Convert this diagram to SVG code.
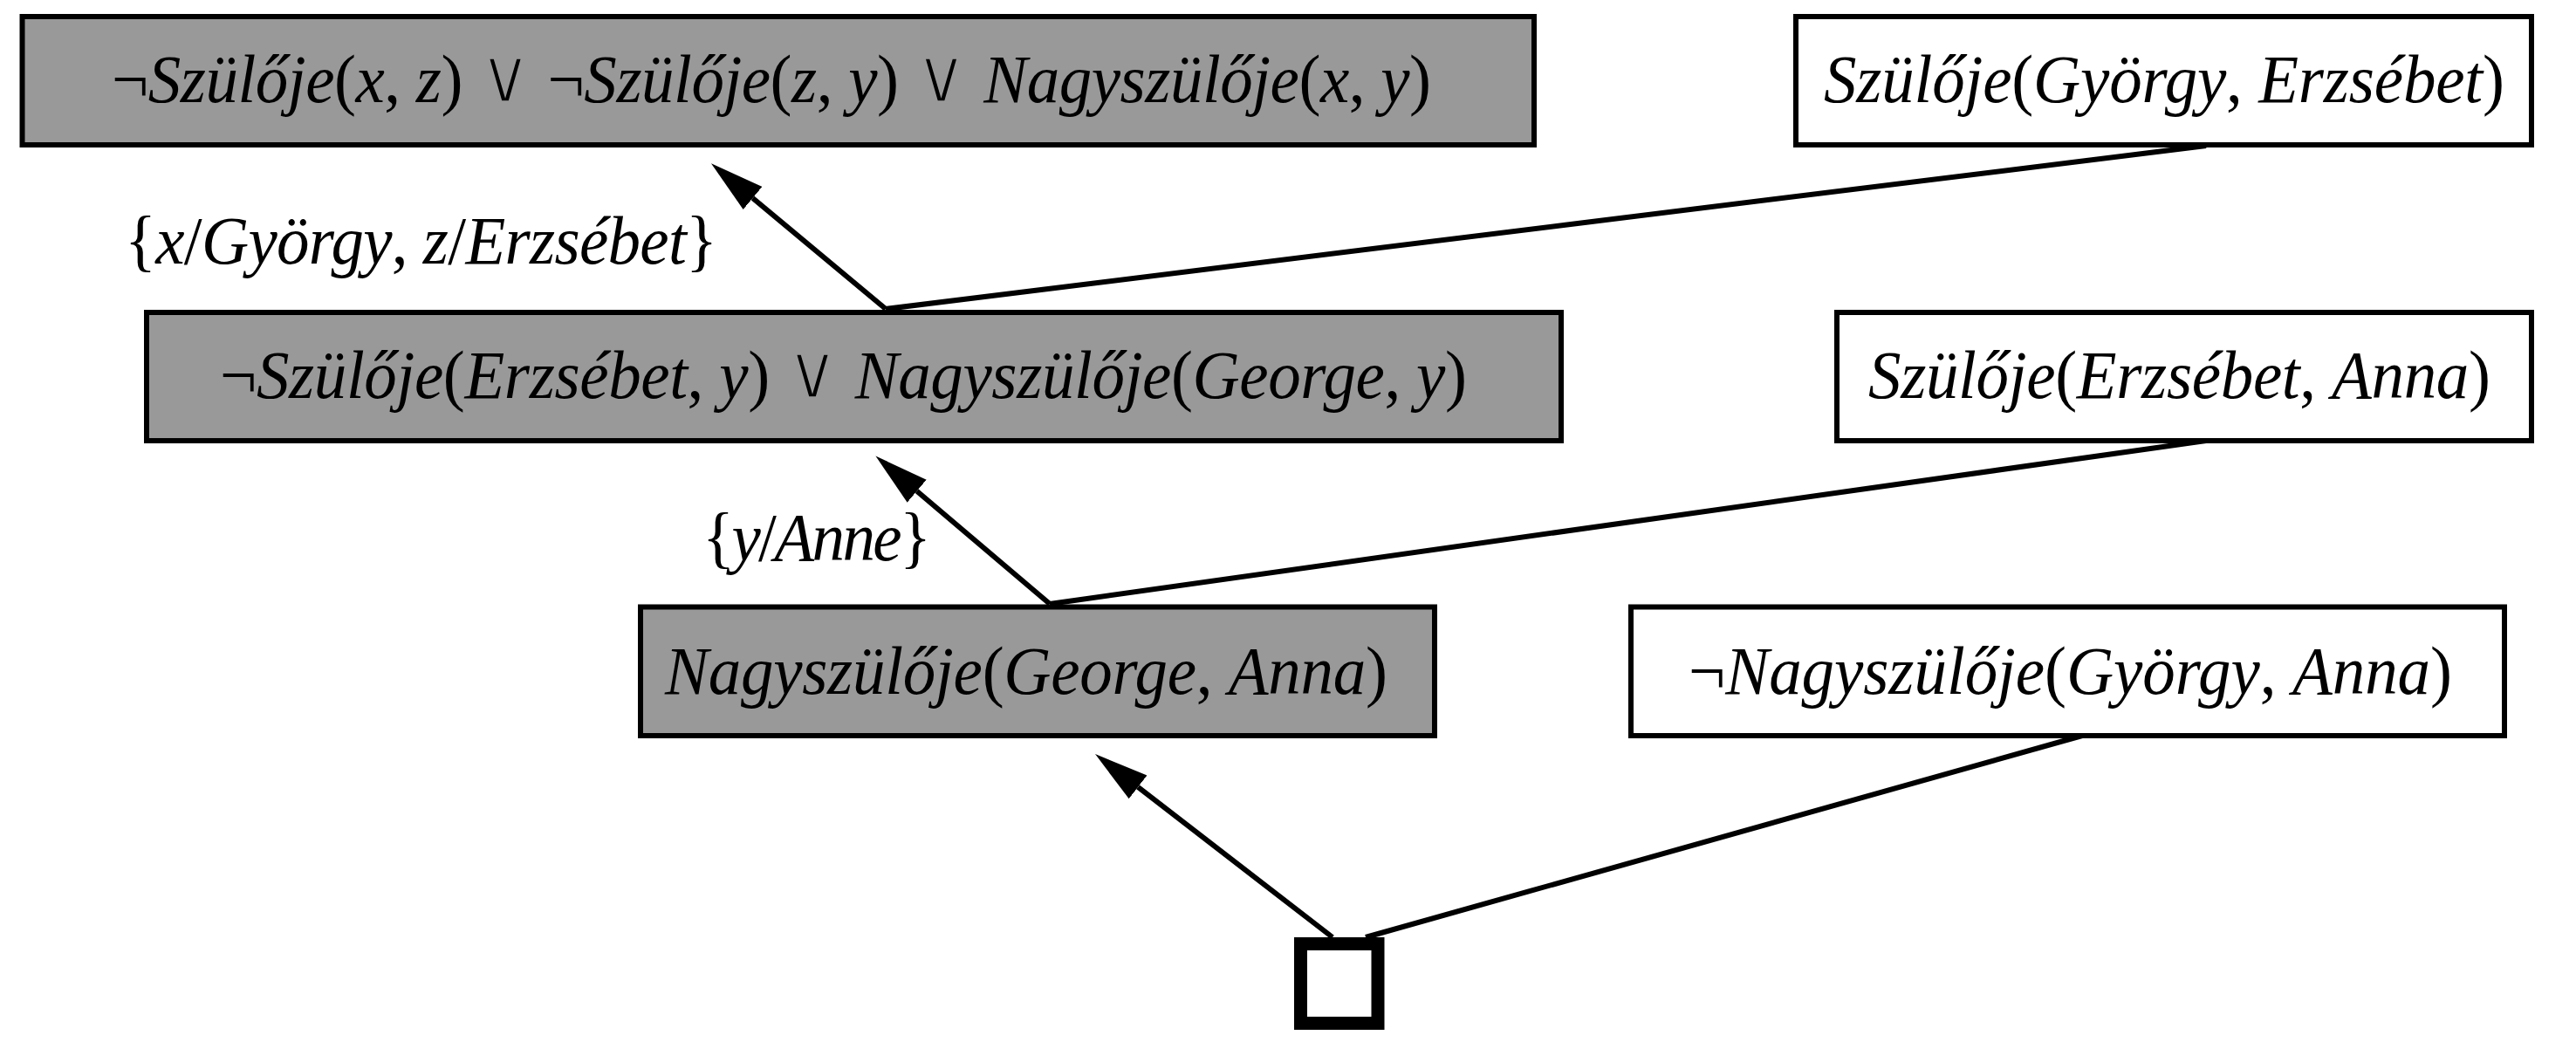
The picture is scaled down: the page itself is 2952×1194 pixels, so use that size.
<svg xmlns="http://www.w3.org/2000/svg" width="2952" height="1194" viewBox="0 0 2952 1194">
<style>
.bg{fill:#ffffff}
.box{stroke:#000;stroke-width:6}
.g{fill:#999999}
.w{fill:#ffffff}
.t{font-family:"Liberation Serif","Times New Roman",serif;font-size:75px;fill:#000}
.i{font-style:italic}
.u{font-style:normal;font-family:"Liberation Serif","DejaVu Serif",serif}
.o{font-style:normal;font-family:"DejaVu Sans","DejaVu Serif",sans-serif;font-size:84px;stroke:#999999;stroke-width:3.5}
.c{stroke:#000;stroke-width:6;fill:none}
</style>
<defs>
<marker id="ah" markerUnits="userSpaceOnUse" markerWidth="64" markerHeight="36" viewBox="0 -18 64 36" refX="0" refY="0" orient="auto">
<path d="M0,-17 L62,0 L0,17 Z" fill="#000"/>
</marker>
</defs>
<rect class="bg" x="0" y="0" width="2952" height="1194"/>
<g id="connectors">
<line class="c" x1="1015" y1="354" x2="862.6" y2="227" marker-end="url(#ah)"/>
<line class="c" x1="1015" y1="354" x2="2528" y2="167"/>
<line class="c" x1="1203" y1="692" x2="1050.7" y2="562.7" marker-end="url(#ah)"/>
<line class="c" x1="1203" y1="692" x2="2528" y2="505"/>
<line class="c" x1="1527" y1="1074" x2="1304.1" y2="901.9" marker-end="url(#ah)"/>
<line class="c" x1="1565" y1="1074" x2="2386" y2="843"/>
</g>
<g id="n1">
<rect class="box g" x="25.5" y="19" width="1732.5" height="147"/>
<text class="t" x="128" y="0" transform="translate(0,117) scale(1,1.05)" textLength="1512" lengthAdjust="spacing"><tspan class="u">¬</tspan><tspan class="i">Szülője</tspan><tspan class="u">(</tspan><tspan class="i">x</tspan><tspan class="u">, </tspan><tspan class="i">z</tspan><tspan class="u">) </tspan><tspan class="o">∨</tspan><tspan class="u"> ¬</tspan><tspan class="i">Szülője</tspan><tspan class="u">(</tspan><tspan class="i">z</tspan><tspan class="u">, </tspan><tspan class="i">y</tspan><tspan class="u">) </tspan><tspan class="o">∨</tspan><tspan class="u"> </tspan><tspan class="i">Nagyszülője</tspan><tspan class="u">(</tspan><tspan class="i">x</tspan><tspan class="u">, </tspan><tspan class="i">y</tspan><tspan class="u">)</tspan></text>
</g>
<g id="n2">
<rect class="box w" x="2058" y="19" width="843" height="147"/>
<text class="t" x="2090" y="0" transform="translate(0,117) scale(1,1.05)" textLength="780" lengthAdjust="spacing"><tspan class="i">Szülője</tspan><tspan class="u">(</tspan><tspan class="i">György</tspan><tspan class="u">, </tspan><tspan class="i">Erzsébet</tspan><tspan class="u">)</tspan></text>
</g>
<g id="lbl1">
<text class="t" x="143" y="0" transform="translate(0,302) scale(1,1.05)" textLength="679" lengthAdjust="spacing"><tspan class="u">{</tspan><tspan class="i">x</tspan><tspan class="u">/</tspan><tspan class="i">György</tspan><tspan class="u">, </tspan><tspan class="i">z</tspan><tspan class="u">/</tspan><tspan class="i">Erzsébet</tspan><tspan class="u">}</tspan></text>
</g>
<g id="n3">
<rect class="box g" x="168" y="358" width="1621" height="147"/>
<text class="t" x="252" y="0" transform="translate(0,456) scale(1,1.05)" textLength="1429" lengthAdjust="spacing"><tspan class="u">¬</tspan><tspan class="i">Szülője</tspan><tspan class="u">(</tspan><tspan class="i">Erzsébet</tspan><tspan class="u">, </tspan><tspan class="i">y</tspan><tspan class="u">) </tspan><tspan class="o">∨</tspan><tspan class="u"> </tspan><tspan class="i">Nagyszülője</tspan><tspan class="u">(</tspan><tspan class="i">George</tspan><tspan class="u">, </tspan><tspan class="i">y</tspan><tspan class="u">)</tspan></text>
</g>
<g id="n4">
<rect class="box w" x="2105" y="358" width="796" height="147"/>
<text class="t" x="2141" y="0" transform="translate(0,456) scale(1,1.05)" textLength="713" lengthAdjust="spacing"><tspan class="i">Szülője</tspan><tspan class="u">(</tspan><tspan class="i">Erzsébet</tspan><tspan class="u">, </tspan><tspan class="i">Anna</tspan><tspan class="u">)</tspan></text>
</g>
<g id="lbl2">
<text class="t" x="805" y="0" transform="translate(0,642) scale(1,1.05)" textLength="262" lengthAdjust="spacing"><tspan class="u">{</tspan><tspan class="i">y</tspan><tspan class="u">/</tspan><tspan class="i">Anne</tspan><tspan class="u">}</tspan></text>
</g>
<g id="n5">
<rect class="box g" x="734" y="695.5" width="910" height="147.5"/>
<text class="t" x="762" y="0" transform="translate(0,795) scale(1,1.05)" textLength="828" lengthAdjust="spacing"><tspan class="i">Nagyszülője</tspan><tspan class="u">(</tspan><tspan class="i">George</tspan><tspan class="u">, </tspan><tspan class="i">Anna</tspan><tspan class="u">)</tspan></text>
</g>
<g id="n6">
<rect class="box w" x="1869" y="695.5" width="1001" height="147.5"/>
<text class="t" x="1935" y="0" transform="translate(0,795) scale(1,1.05)" textLength="875" lengthAdjust="spacing"><tspan class="u">¬</tspan><tspan class="i">Nagyszülője</tspan><tspan class="u">(</tspan><tspan class="i">György</tspan><tspan class="u">, </tspan><tspan class="i">Anna</tspan><tspan class="u">)</tspan></text>
</g>
<g id="empty">
<rect x="1490.5" y="1081.5" width="88.5" height="91" fill="#ffffff" stroke="#000" stroke-width="15"/>
</g>
</svg>
